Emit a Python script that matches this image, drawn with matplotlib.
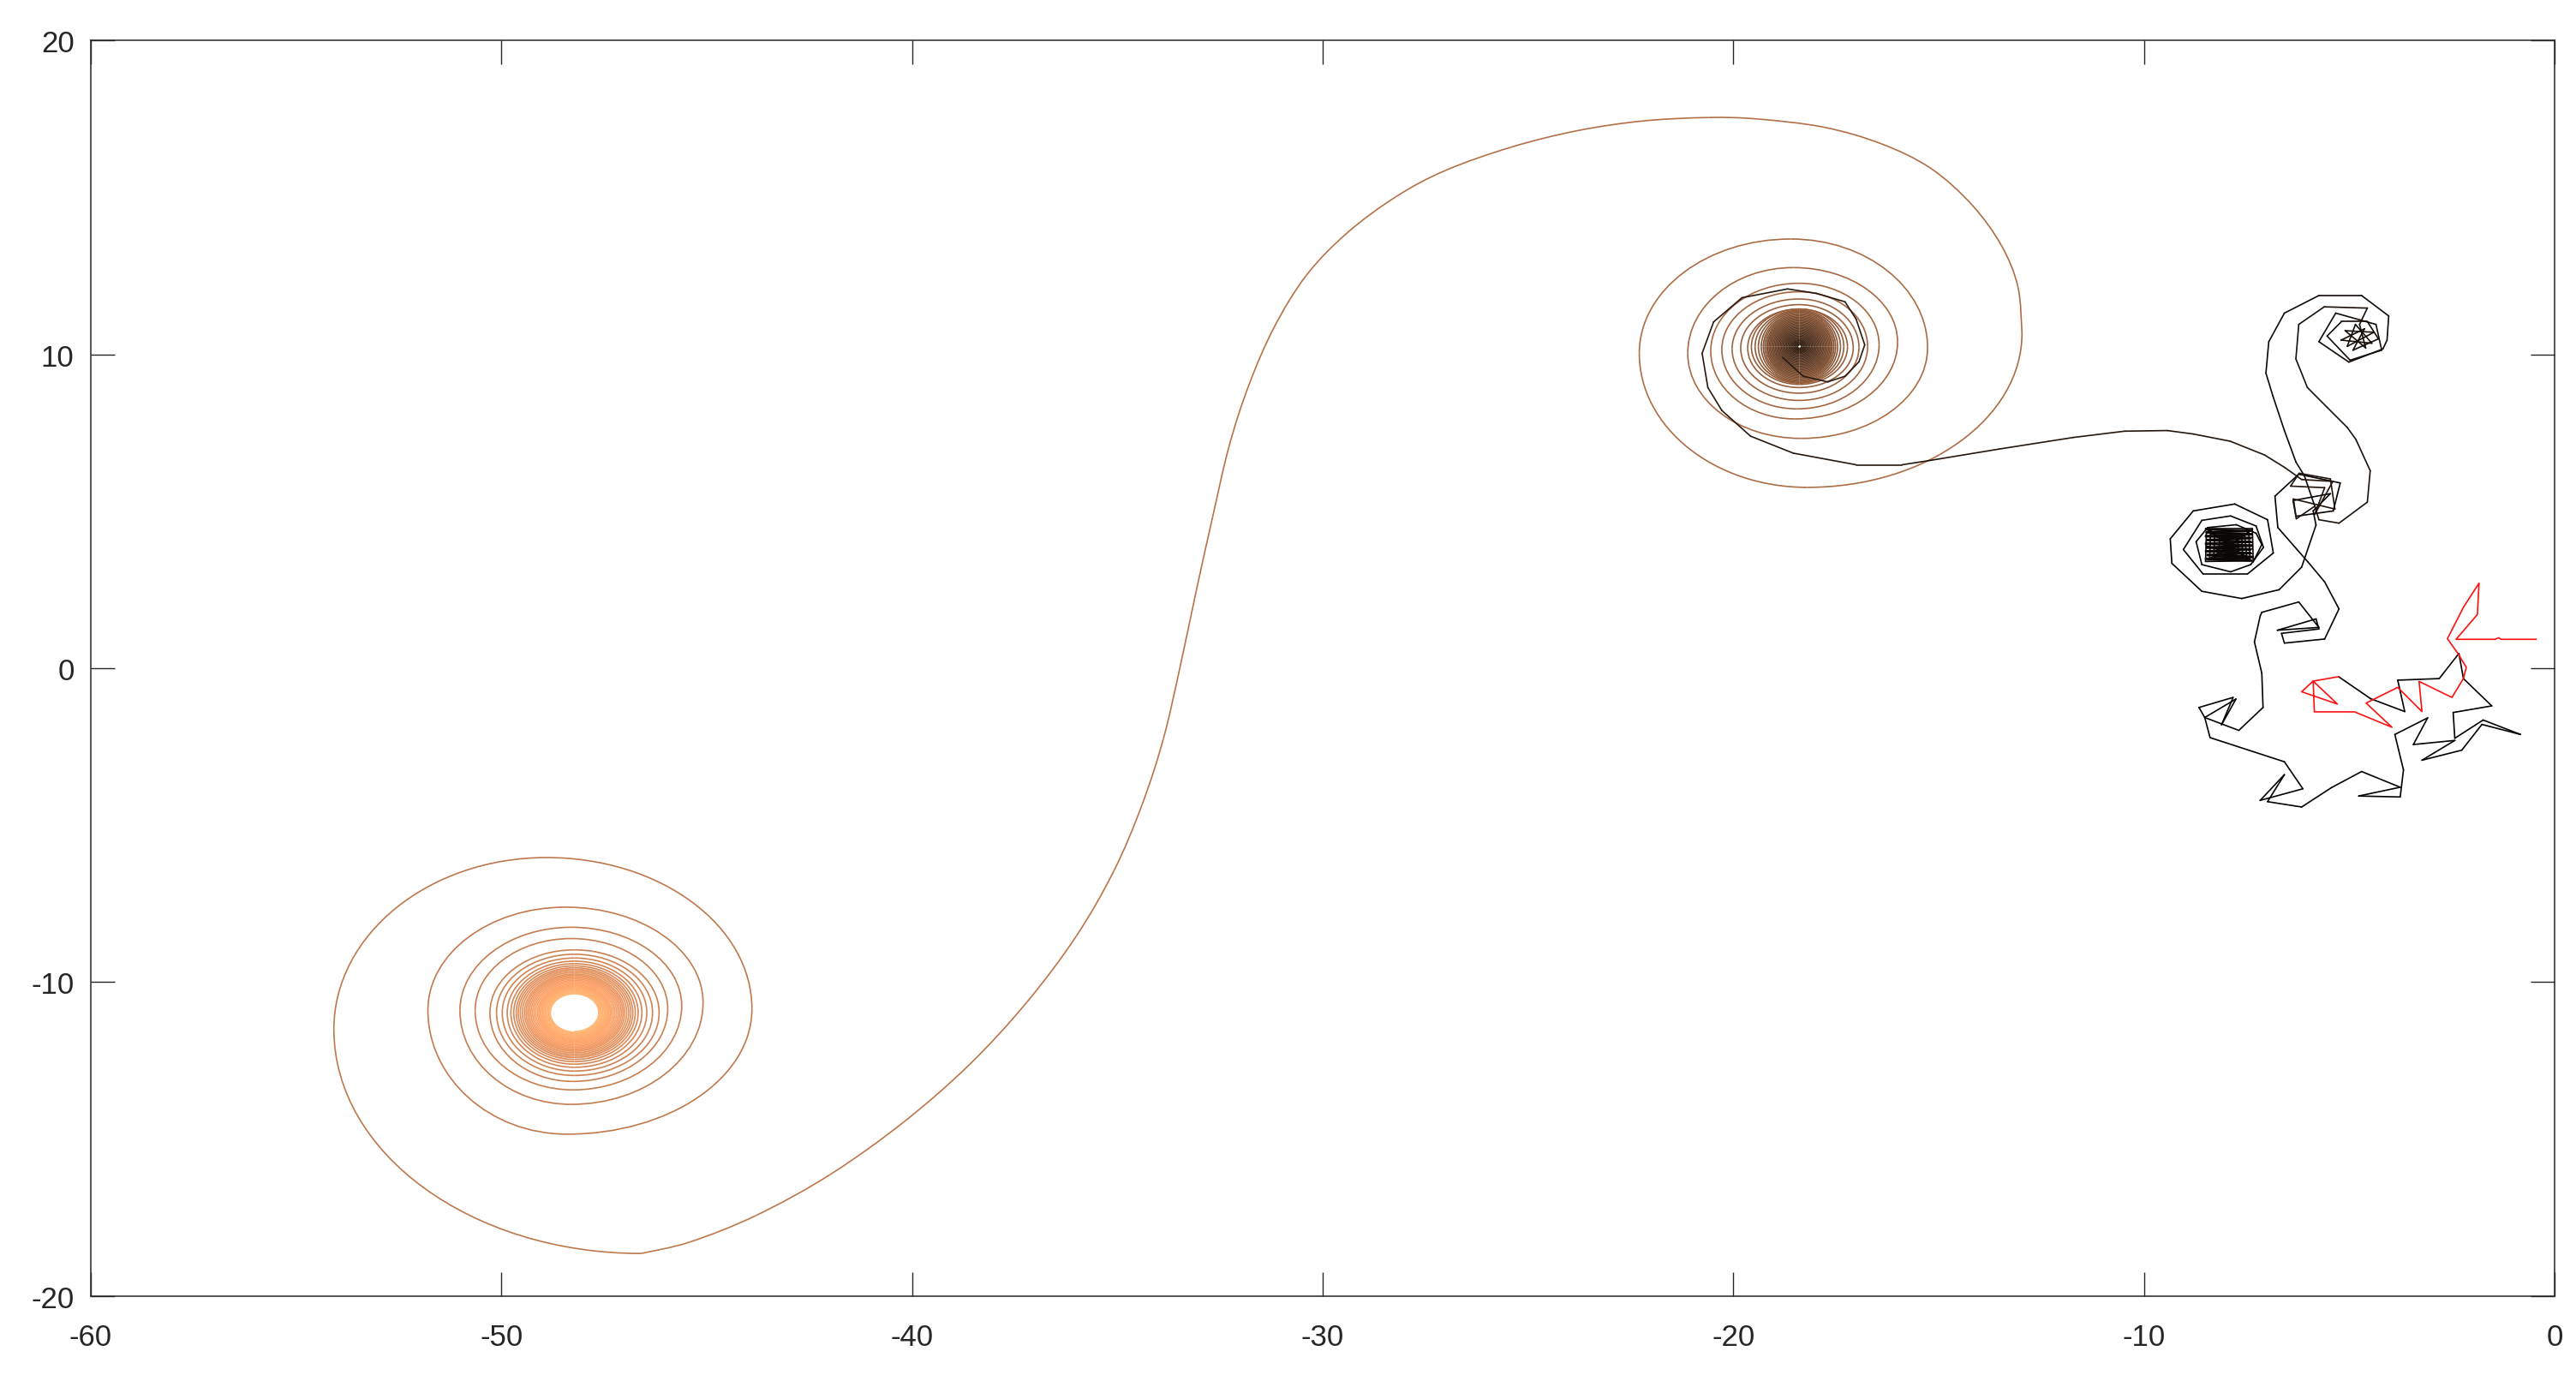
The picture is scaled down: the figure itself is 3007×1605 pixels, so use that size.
import numpy as np
import matplotlib.pyplot as plt
from matplotlib.path import Path
from matplotlib.collections import LineCollection, PathCollection

plt.rcParams['font.family'] = ['Liberation Sans', 'DejaVu Sans']
plt.rcParams['axes.unicode_minus'] = False

# ---- data ----
# middle vortex, turning points of the outer turns (right, bottom, left, top ... going inward)
mid_turn_x = [-12.97, -18.20, -22.29, -18.60, -15.27, -18.35, -21.11, -18.54, -16.00, -18.50,
              -20.55, -18.40, -16.45, -18.45, -20.28, -18.40, -16.73, -18.40, -20.03, -18.40,
              -16.94, -18.40, -19.82, -18.40, -17.08, -18.40, -19.65, -18.40]
mid_turn_y = [10.67, 5.76, 10.03, 13.67, 10.21, 7.32, 10.03, 12.76, 10.39, 7.94,
              10.10, 12.26, 10.30, 8.26, 10.15, 11.99, 10.25, 8.53, 10.17, 11.76,
              10.22, 8.76, 10.20, 11.58, 10.20, 8.94, 10.20, 11.44]
# middle vortex core: centre and half widths / heights of the inner turns
mid_core_c = (-18.39, 10.24)
mid_core_rx = [1.17, 1.08, 1.00, 0.93, 0.88, 0.84, 0.80, 0.77, 0.74, 0.71, 0.68, 0.65, 0.62,
               0.59, 0.56, 0.53, 0.50, 0.47, 0.44, 0.41, 0.38, 0.35, 0.32, 0.29, 0.26, 0.23,
               0.20, 0.17, 0.14, 0.11, 0.08, 0.05]
mid_core_ry = [1.20, 1.16, 1.13, 1.10, 1.06, 1.02, 0.98, 0.94, 0.90, 0.86, 0.82, 0.78, 0.74,
               0.70, 0.66, 0.62, 0.58, 0.54, 0.50, 0.46, 0.42, 0.38, 0.34, 0.30, 0.26, 0.22,
               0.19, 0.16, 0.13, 0.10, 0.08, 0.05]

# the long S shaped arm between the two vortices
arm_x = [-12.97, -13.07, -13.47, -14.19, -15.19, -16.39, -17.79, -19.39, -20.60, -22.20,
         -23.80, -25.40, -27.00, -28.20, -29.40, -30.40, -31.19, -31.80, -32.28, -32.68,
         -33.08, -33.48, -33.88, -34.40, -35.08, -36.00, -37.20, -38.60, -40.20, -42.00,
         -43.80, -45.40, -46.60]
arm_y = [10.67, 12.15, 13.46, 14.76, 15.92, 16.70, 17.23, 17.49, 17.54, 17.43,
         17.12, 16.60, 15.86, 15.03, 13.87, 12.51, 10.84, 9.01, 7.07, 4.82,
         2.46, 0.00, -2.25, -4.35, -6.44, -8.53, -10.63, -12.62, -14.45, -16.13,
         -17.43, -18.27, -18.64]

# left vortex, turning points of the outer turns (bottom, left, top, right ... going inward)
left_turn_x = [-46.60, -54.08, -48.90, -43.90, -48.40, -51.79, -48.44, -45.09, -48.30,
               -51.01, -48.30, -45.61, -48.26, -50.64, -48.30, -45.95, -48.26]
left_turn_y = [-18.64, -11.50, -6.03, -10.85, -14.84, -10.89, -7.61, -10.65, -13.89,
               -10.90, -8.25, -10.75, -13.43, -10.90, -8.61, -10.85, -13.16]
left_core_c = (-48.22, -10.97)
left_core_rx = [2.06, 1.90, 1.76, 1.64, 1.55, 1.48, 1.42, 1.37, 1.32, 1.27, 1.22, 1.18, 1.14,
                1.10, 1.06, 1.02, 0.98, 0.94, 0.90, 0.87, 0.84, 0.81, 0.78, 0.75, 0.72, 0.69,
                0.66, 0.63, 0.61, 0.59]
left_core_ry = [2.00, 1.86, 1.74, 1.64, 1.56, 1.49, 1.43, 1.38, 1.33, 1.28, 1.23, 1.19, 1.15,
                1.11, 1.07, 1.03, 0.99, 0.95, 0.91, 0.88, 0.85, 0.82, 0.79, 0.76, 0.73, 0.70,
                0.67, 0.64, 0.62, 0.60]

# dark track, first part: wander at the bottom right, into the small left vortex
dark1_x = [-5.26, -4.48, -3.65, -3.82, -2.81, -2.33, -2.22, -1.53, -2.47, -2.43, -1.74, -0.83,
           -1.77, -2.26, -3.23, -2.43, -3.44, -3.09, -3.89, -3.68, -3.76, -4.77, -3.76, -4.70,
           -5.43, -6.16, -6.99, -6.58, -7.17, -6.13, -6.58, -8.39, -8.52, -7.76, -8.11, -7.83,
           -8.66, -8.52, -7.69, -7.10, -7.13, -7.31, -7.17, -7.13, -6.23, -5.74, -6.75, -5.81,
           -5.74, -6.65, -6.58, -5.60, -5.25, -5.60, -6.01, -6.74, -6.81, -6.23, -5.22, -5.39,
           -6.30, -6.37, -5.46, -5.88, -5.81, -6.16, -6.71, -7.62, -8.59, -9.32, -9.36, -8.80,
           -7.79, -6.99, -6.85, -7.48, -8.56, -9.04, -8.59, -7.89, -7.27, -7.09, -7.40, -7.89,
           -8.59, -8.73, -8.45, -7.75, -7.27, -7.13, -7.34, -8.50, -7.36, -7.34, -8.50, -8.48,
           -7.45, -7.42, -8.40, -8.38, -7.55, -7.50, -8.30, -8.28, -7.62, -7.60, -8.20, -8.15,
           -7.72, -7.70, -8.05, -8.02, -7.82, -7.85, -8.40, -7.50, -8.30, -7.45,
           -8.50, -7.38, -8.48, -7.36, -8.50, -7.40, -8.46, -7.38, -8.50, -7.36, -8.48, -7.40,
           -8.50, -7.38, -8.46, -7.36, -8.50, -7.40, -8.44, -7.38,
           -7.40, -8.48, -7.36, -8.50, -7.38, -8.46, -7.40, -8.50, -7.36, -8.48, -7.38, -8.50,
           -7.40, -8.46, -7.36, -8.50, -7.38, -8.48]
dark1_y = [-0.27, -0.97, -1.38, -0.38, -0.33, 0.47, -0.33, -1.20, -1.41, -2.23, -1.65, -2.11,
           -1.79, -2.61, -2.93, -2.30, -2.43, -1.58, -2.11, -3.24, -4.10, -4.07, -3.79, -3.29,
           -3.80, -4.42, -4.25, -3.39, -4.21, -3.84, -2.98, -2.21, -1.57, -0.98, -1.80, -0.93,
           -1.25, -1.57, -1.98, -1.25, -0.16, 0.84, 1.66, 1.78, 2.11, 1.30, 1.21, 1.57,
           1.25, 1.11, 0.80, 0.93, 1.89, 2.75, 3.39, 4.48, 5.48, 6.18, 5.90, 5.01,
           4.84, 5.34, 5.56, 5.01, 4.56, 3.22, 2.50, 2.22, 2.45, 3.34, 4.12, 5.01,
           5.23, 4.73, 3.67, 3.00, 3.00, 3.78, 4.71, 4.85, 4.53, 3.85, 3.30, 3.07,
           3.30, 4.03, 4.48, 4.57, 4.30, 3.94, 3.39, 4.45, 4.45, 3.42, 3.40, 4.35,
           4.38, 3.50, 3.48, 4.28, 4.30, 3.58, 3.55, 4.20, 4.20, 3.66, 3.64, 4.12,
           4.12, 3.74, 3.74, 4.02, 4.02, 3.84, 4.40, 3.50, 3.50, 4.35,
           4.43, 4.37, 4.31, 4.25, 4.19, 4.13, 4.07, 4.01, 3.95, 3.89, 3.83, 3.77,
           3.71, 3.65, 3.59, 3.53, 3.47, 3.42, 3.45, 4.40,
           4.40, 4.34, 4.28, 4.22, 4.16, 4.10, 4.04, 3.98, 3.92, 3.86, 3.80, 3.74,
           3.68, 3.62, 3.56, 3.50, 3.44, 3.90]

# dark track, second part: up to the top right vortex, back down and across to the middle vortex
dark2_x = [-5.84, -6.09, -6.30, -6.58, -6.86, -7.03, -6.96, -6.58, -5.74, -4.70, -4.04, -4.08,
           -4.18, -5.01, -5.74, -5.33, -4.35, -4.21, -4.98, -5.54, -5.19, -4.56, -4.29, -4.91,
           -4.63, -5.20, -4.45, -4.85, -5.05, -4.40, -5.10, -4.60, -4.75, -4.56, -5.61, -6.23,
           -6.30, -6.02, -5.54, -5.05, -4.84, -4.49, -4.56, -5.25, -5.74, -5.84, -6.29, -6.36,
           -5.35, -5.46, -6.22, -6.43, -5.60, -5.84, -5.40, -6.16, -6.58, -7.06, -7.90, -8.80,
           -9.43, -10.47, -11.72, -13.53, -15.20, -15.89, -17.01, -18.54, -19.58, -20.28, -20.62,
           -20.76, -20.48, -19.79, -18.68, -17.98, -17.28, -17.01, -16.80, -16.94, -17.28, -17.70,
           -18.30, -18.80]
dark2_y = [5.16, 6.12, 6.57, 7.57, 8.67, 9.40, 10.40, 11.31, 11.87, 11.87, 11.22, 10.45,
           10.17, 9.75, 10.40, 11.31, 10.95, 10.13, 9.81, 10.58, 11.04, 11.04, 10.49, 10.13,
           10.81, 10.45, 10.35, 10.95, 10.25, 10.70, 10.75, 10.20, 10.95, 11.47, 11.51, 10.95,
           9.85, 8.94, 8.31, 7.67, 7.29, 6.29, 5.29, 4.62, 4.73, 5.16, 4.76, 5.39,
           5.07, 6.03, 6.21, 5.80, 5.75, 4.90, 5.95, 6.01, 6.40, 6.79, 7.23, 7.46,
           7.57, 7.55, 7.35, 6.98, 6.62, 6.48, 6.48, 6.85, 7.39, 8.21, 8.94,
           10.03, 11.03, 11.80, 12.08, 11.94, 11.67, 11.12, 10.30, 9.76, 9.30, 9.12,
           9.30, 9.90]

# red track at the far right
red_x = [-0.45, -1.30, -1.36, -1.45, -2.40, -1.88, -1.84, -2.22, -2.61, -2.36, -2.15, -2.22,
         -2.50, -3.30, -3.23, -3.82, -4.59, -3.96, -4.87, -5.85, -5.88, -5.29, -6.16, -5.88,
         -5.26]
red_y = [0.92, 0.92, 0.97, 0.92, 0.92, 1.71, 2.71, 1.94, 0.94, 0.48, 0.03, -0.33,
         -0.93, -0.42, -1.38, -0.61, -1.11, -1.88, -1.39, -1.39, -0.41, -1.14, -0.75, -0.41,
         -0.27]

K = 0.5523  # bezier constant for a quarter ellipse
LW = 1.2
cmap = plt.get_cmap('copper')
CURVE = [Path.MOVETO, Path.CURVE4, Path.CURVE4, Path.CURVE4]


def ring_points(c, rx, ry, order):
    xs, ys = [], []
    for a, b in zip(rx, ry):
        pts = {'r': (c[0] + a, c[1]), 'b': (c[0], c[1] - b),
               'l': (c[0] - a, c[1]), 't': (c[0], c[1] + b)}
        for k in order:
            xs.append(pts[k][0])
            ys.append(pts[k][1])
    return xs, ys


def quarter_arcs(px, py, start_horizontal):
    paths = []
    horiz = start_horizontal
    for i in range(len(px) - 1):
        x0, y0, x3, y3 = px[i], py[i], px[i + 1], py[i + 1]
        if horiz:
            c1 = (x0 + K * (x3 - x0), y0)
            c2 = (x3, y3 + K * (y0 - y3))
        else:
            c1 = (x0, y0 + K * (y3 - y0))
            c2 = (x3 + K * (x0 - x3), y3)
        paths.append(Path([(x0, y0), c1, c2, (x3, y3)], CURVE))
        horiz = not horiz
    return paths


def smooth_pieces(xs, ys):
    # draw a smooth line through the points (one bezier piece per gap)
    p = np.column_stack([xs, ys])
    p = np.vstack([p[:1], p, p[-1:]])
    paths = []
    for i in range(1, len(p) - 2):
        c1 = p[i] + (p[i + 1] - p[i - 1]) / 6
        c2 = p[i + 1] - (p[i + 2] - p[i]) / 6
        paths.append(Path([p[i], c1, c2, p[i + 1]], CURVE))
    return paths


def segments(xs, ys):
    pts = np.column_stack([xs, ys])
    return np.stack([pts[:-1], pts[1:]], axis=1)


def add_paths(ax, paths, v0, v1):
    ax.add_collection(PathCollection(paths, facecolors='none', linewidths=LW,
                                     edgecolors=cmap(np.linspace(v0, v1, len(paths)))))


fig = plt.figure(figsize=(30.07, 16.06), dpi=100)
ax = fig.add_axes([0.03525, 0.05729, 0.95644, 0.91282])

# middle vortex (drawn from the centre outwards)
cx, cy = ring_points(mid_core_c, mid_core_rx, mid_core_ry, 'rblt')
mx = (mid_turn_x + cx)[::-1]
my = (mid_turn_y + cy)[::-1]
add_paths(ax, quarter_arcs(mx, my, True), 0.15, 0.55)

# S arm
add_paths(ax, smooth_pieces(arm_x, arm_y), 0.55, 0.60)

# left vortex (drawn inwards)
cx, cy = ring_points(left_core_c, left_core_rx, left_core_ry, 'ltrb')
add_paths(ax, quarter_arcs(left_turn_x + cx, left_turn_y + cy, True), 0.60, 0.93)

# dark tracks
d1 = segments(dark1_x, dark1_y)
ax.add_collection(LineCollection(d1, linewidths=LW, capstyle='round',
                                 colors=cmap(np.linspace(0.0, 0.04, len(d1)))))
d2 = segments(dark2_x, dark2_y)
ax.add_collection(LineCollection(d2, linewidths=LW, capstyle='round',
                                 colors=cmap(np.linspace(0.04, 0.14, len(d2)))))

# red track
ax.plot(red_x, red_y, color='#ff1010', linewidth=LW, solid_joinstyle='round')

ax.set_xlim(-60, 0)
ax.set_ylim(-20, 20)
ax.set_xticks(range(-60, 1, 10))
ax.set_yticks(range(-20, 21, 10))
ax.tick_params(direction='in', length=20, width=1.0, top=True, right=True,
               labelsize=25, colors='#262626')
ax.tick_params(axis='x', pad=22)
ax.tick_params(axis='y', pad=14)
for s in ax.spines.values():
    s.set_linewidth(1.1)
    s.set_color('#262626')

fig.savefig('out.png', dpi=100)
